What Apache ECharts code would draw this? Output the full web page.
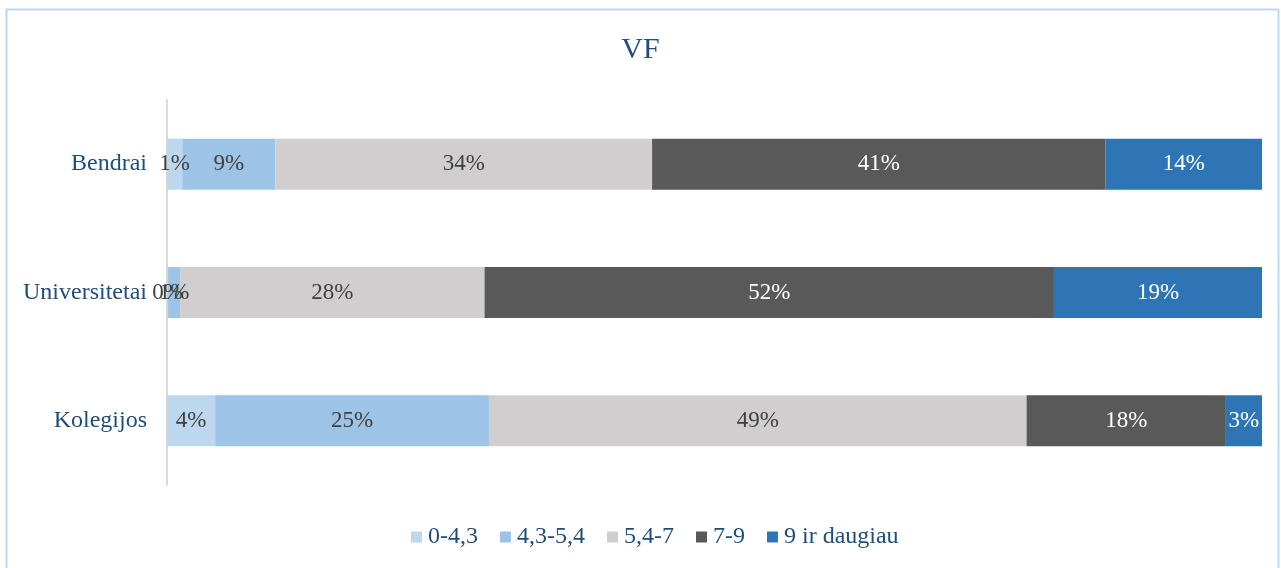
<!DOCTYPE html>
<html>
<head>
<meta charset="utf-8">
<script src="https://cdn.jsdelivr.net/npm/echarts@6/dist/echarts.min.js"></script>
<style>
  html, body { margin: 0; padding: 0; background: #fff; }
  #main { width: 1281px; height: 568px; }
</style>
</head>
<body>
<div id="main"></div>
<script>
var categories = ['Kolegijos', 'Universitetai', 'Bendrai'];
var seriesNames = ['0-4,3', '4,3-5,4', '5,4-7', '7-9', '9 ir daugiau'];
// shares per category (bottom to top), in %
var s0_43 = [4.4, 0.1, 1.4];
var s43_54 = [25.0, 1.1, 8.5];
var s54_7 = [49.1, 27.8, 34.4];
var s7_9 = [18.2, 52.0, 41.4];
var s9plus = [3.3, 19.0, 14.3];

var colors = ['#BDD7EE', '#9DC3E6', '#D0CECE', '#595959', '#2E75B6'];
var labelColors = ['#404040', '#404040', '#404040', '#ffffff', '#ffffff'];
var font = '"Liberation Serif", "Times New Roman", serif';

var allData = [s0_43, s43_54, s54_7, s7_9, s9plus];
var series = [];
for (var i = 0; i < allData.length; i++) {
    series.push({
        name: seriesNames[i],
        type: 'bar',
        stack: 'total',
        barWidth: 51,
        data: allData[i],
        itemStyle: { color: colors[i] },
        label: {
            show: true,
            position: 'inside',
            color: labelColors[i],
            fontFamily: font,
            fontSize: 23,
            formatter: function(p) { return Math.round(p.value) + '%'; }
        },
        emphasis: { disabled: true }
    });
}

var chart = echarts.init(document.getElementById('main'));
chart.setOption({
    animation: false,
    title: {
        text: 'VF',
        left: 'center',
        top: 30,
        textStyle: { fontFamily: font, fontSize: 30, fontWeight: 'normal', color: '#1F4E79' }
    },
    graphic: [{
        type: 'rect',
        shape: { x: 6.5, y: 9.5, width: 1272, height: 570 },
        style: { fill: 'none', stroke: '#BDD7EE', lineWidth: 2 },
        silent: true
    }],
    legend: {
        top: 520,
        left: 406,
        itemWidth: 11,
        itemHeight: 11,
        itemGap: 22,
        icon: 'rect',
        textStyle: { fontFamily: font, fontSize: 24, color: '#1F4E79', padding: [0, 0, 0, 1] },
        data: seriesNames
    },
    grid: { left: 167, right: 19, top: 100, bottom: 83, containLabel: false },
    xAxis: {
        type: 'value',
        min: 0,
        max: 100,
        show: false
    },
    yAxis: {
        type: 'category',
        data: categories,
        axisLine: { show: true, lineStyle: { color: '#D9D9D9', width: 2 } },
        axisTick: { show: false },
        axisLabel: { fontFamily: font, fontSize: 24, color: '#1F4E79', margin: 20 }
    },
    series: series
});
</script>
</body>
</html>
